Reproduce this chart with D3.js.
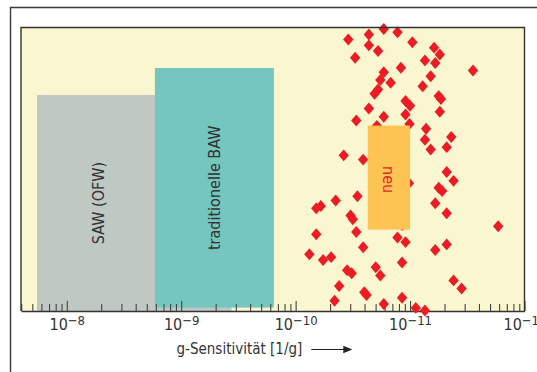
<!DOCTYPE html>
<html>
<head>
<meta charset="utf-8">
<script src="https://cdn.jsdelivr.net/npm/d3@7"></script>
<style>
  body { margin: 0; background: #fff; }
  svg { display: block; }
  text { font-family: "Liberation Sans Narrow", "DejaVu Sans Condensed", "Roboto Condensed", sans-serif; fill: #333; }
</style>
</head>
<body>
<div id="chart"></div>
<script>
// technology boxes: log10 of sensitivity (left/right), vertical extent in % of plot height
const boxLabels = ["SAW (OFW)", "traditionelle BAW", "neu"];
const boxSensFrom = [-7.74, -8.77, -10.63];
const boxSensTo = [-9.44, -9.81, -11.0];
const boxBottom = [0, 1.2, 28.7];
const boxTop = [76.2, 85.7, 65.4];

// measured devices: log10 of g-sensitivity [1/g] and vertical scatter position (% of plot height)
const pointSensExp = [
  -10.46, -10.64, -10.77, -10.89, -10.64, -10.72, -10.52, -10.92, -10.77, -10.74,
  -10.83, -10.72, -10.69, -10.64, -10.77, -10.53, -10.71, -10.42, -10.59, -11.02,
  -11.21, -11.26, -11.13, -11.22, -11.55, -11.18, -11.11, -11.25, -11.27, -10.96,
  -11.00, -11.26, -10.96, -10.995, -11.14, -11.13, -11.36, -11.18, -11.32, -11.32,
  -11.38, -10.99, -11.25, -11.28, -11.22, -11.32, -11.77, -10.89, -10.96, -11.32,
  -11.22, -10.93, -11.38, -11.45, -10.93, -11.05, -11.13, -10.35, -10.54, -10.18,
  -10.22, -10.48, -10.50, -10.53, -10.18, -10.59, -10.12, -10.24, -10.31, -10.45,
  -10.49, -10.70, -10.74, -10.38, -10.60, -10.62, -10.34, -10.77, -10.93
];
const pointLevel = [
  95.8, 97.5, 99.5, 98.3, 93.7, 91.7, 89.3, 85.8, 84.2, 81.5,
  80.5, 78.1, 76.6, 71.4, 68.5, 67.2, 65.3, 54.9, 53.4, 94.8,
  92.9, 90.5, 88.4, 87.5, 84.8, 82.8, 79.3, 75.8, 74.8, 74.1,
  72.4, 70.3, 69.3, 66.0, 64.3, 60.4, 61.4, 57.0, 57.8, 49.0,
  45.9, 45.1, 43.5, 42.3, 38.0, 34.5, 29.9, 25.9, 24.3, 23.5,
  21.5, 17.1, 10.8, 7.9, 4.7, 1.1, 0.2, 39.0, 40.5, 36.2,
  37.0, 33.7, 32.4, 27.9, 27.1, 22.5, 20.0, 18.0, 19.0, 14.4,
  13.3, 15.4, 12.5, 8.8, 6.6, 5.6, 3.6, 2.5, 30.3
];

// axis: 1/sensitivity domain, labelled as sensitivity
const axisExpFrom = 7.6;
const axisExpTo = 12;
const axisTitle = "g-Sensitivität [1/g]";

const boxColors = ["#bfc8c3", "#75c6bf", "#fdc453"];
const boxTextColors = ["#333", "#333", "#e8262b"];
const pointColor = "#ec1c24";

const width = 537, height = 372;
const margin = {top: 27.5, right: 12.5, bottom: 61, left: 21};
const plotW = width - margin.left - margin.right;
const plotH = height - margin.top - margin.bottom;

const svg = d3.select("#chart").append("svg")
  .attr("width", width)
  .attr("height", height);

// outer page frame
svg.append("path")
  .attr("d", `M10.5,${height} V7.5 H${width}`)
  .attr("fill", "none")
  .attr("stroke", "#3a3a3a")
  .attr("stroke-width", 1.4);

const g = svg.append("g")
  .attr("transform", `translate(${margin.left},${margin.top})`);

const x = d3.scaleLog()
  .domain([10 ** axisExpFrom, 10 ** axisExpTo])
  .range([0, plotW]);
const y = d3.scaleLinear()
  .domain([0, 100])
  .range([plotH, 0]);
// sensitivity exponent -> x position (scale runs on 1/sensitivity)
const xs = (e) => x(1 / (10 ** e));

g.append("rect")
  .attr("width", plotW)
  .attr("height", plotH)
  .attr("fill", "#faf7d0");

const boxes = boxLabels.map((label, i) => ({
  label, from: boxSensFrom[i], to: boxSensTo[i], bottom: boxBottom[i], top: boxTop[i],
  color: boxColors[i], textColor: boxTextColors[i]
}));

const drawBoxes = (sel) => sel
  .attr("x", (d) => xs(d.from))
  .attr("y", (d) => y(d.top))
  .attr("width", (d) => xs(d.to) - xs(d.from))
  .attr("height", (d) => y(d.bottom) - y(d.top))
  .attr("fill", (d) => d.color);

// grey and teal boxes behind the points
g.selectAll("rect.box")
  .data(boxes.slice(0, 2))
  .enter()
  .append("rect")
  .attr("class", "box")
  .call(drawBoxes);

// axis with ticks pointing inwards
const tickVals = x.ticks();
const isMajor = (d) => Math.abs(Math.log10(d) - Math.round(Math.log10(d))) < 1e-6;
const axis = g.append("g")
  .attr("transform", `translate(0,${plotH})`)
  .call(d3.axisBottom(x).tickValues(tickVals).tickSize(-7).tickSizeOuter(0).tickFormat(""));
axis.select(".domain").attr("stroke", "#333").attr("stroke-width", 1.6);
axis.selectAll(".tick line")
  .attr("stroke", "#444")
  .attr("stroke-width", 1.1)
  .attr("y2", (d) => isMajor(d) ? -10 : -7);
axis.selectAll(".tick text").remove();
const lbl = axis.selectAll(".tick")
  .filter((d) => isMajor(d))
  .append("text")
  .attr("y", 19)
  .attr("text-anchor", "middle")
  .style("font-size", "16px");
lbl.append("tspan").text("10");
lbl.append("tspan")
  .attr("dy", -5)
  .style("font-size", "13px")
  .text((d) => "\u2212" + Math.round(Math.log10(d)));

// points
const diamond = {
  draw(ctx, size) {
    const h = Math.sqrt(size / 1.733);
    const w = h * 0.867;
    ctx.moveTo(0, -h);
    ctx.lineTo(w, 0);
    ctx.lineTo(0, h);
    ctx.lineTo(-w, 0);
    ctx.closePath();
  }
};
g.selectAll("path.pt")
  .data(pointSensExp.map((e, i) => ({e, level: pointLevel[i]})))
  .enter()
  .append("path")
  .attr("class", "pt")
  .attr("transform", (d) => `translate(${xs(d.e)},${y(d.level)})`)
  .attr("d", d3.symbol().type(diamond).size(62))
  .attr("fill", pointColor);

// "neu" box on top of the points
g.selectAll("rect.new")
  .data(boxes.slice(2))
  .enter()
  .append("rect")
  .attr("class", "new")
  .call(drawBoxes);

// box labels, centred on the visible part of each box
const visibleRight = [xs(boxes[1].from), xs(boxes[1].to), xs(boxes[2].to)];
g.selectAll("text.boxlabel")
  .data(boxes)
  .enter()
  .append("text")
  .attr("class", "boxlabel")
  .attr("transform", (d, i) => {
    const cx = (xs(d.from) + visibleRight[i]) / 2 + (i === 0 ? 2 : 0);
    const cy = (y(d.top) + y(d.bottom)) / 2 + (i === 2 ? 2 : 0);
    return `translate(${cx},${cy}) rotate(${i === 2 ? 90 : -90})`;
  })
  .attr("text-anchor", "middle")
  .attr("dy", "0.35em")
  .style("font-size", "16px")
  .style("fill", (d) => d.textColor)
  .text((d) => d.label);

// frame on top / left / right of the plot
g.append("path")
  .attr("d", `M0,${plotH} V0 H${plotW} V${plotH}`)
  .attr("fill", "none")
  .attr("stroke", "#333")
  .attr("stroke-width", 1.4);

// axis title with arrow
const title = svg.append("text")
  .attr("x", 176.5)
  .attr("y", 354)
  .style("font-size", "15px")
  .text(axisTitle);
const tEnd = 176.5 + title.node().getComputedTextLength();
svg.append("line")
  .attr("x1", tEnd + 9).attr("x2", tEnd + 42)
  .attr("y1", 349.5).attr("y2", 349.5)
  .attr("stroke", "#222")
  .attr("stroke-width", 1.2);
svg.append("path")
  .attr("d", `M${tEnd + 41},345.8 L${tEnd + 50},349.5 L${tEnd + 41},353.2 Z`)
  .attr("fill", "#222");
</script>
</body>
</html>
